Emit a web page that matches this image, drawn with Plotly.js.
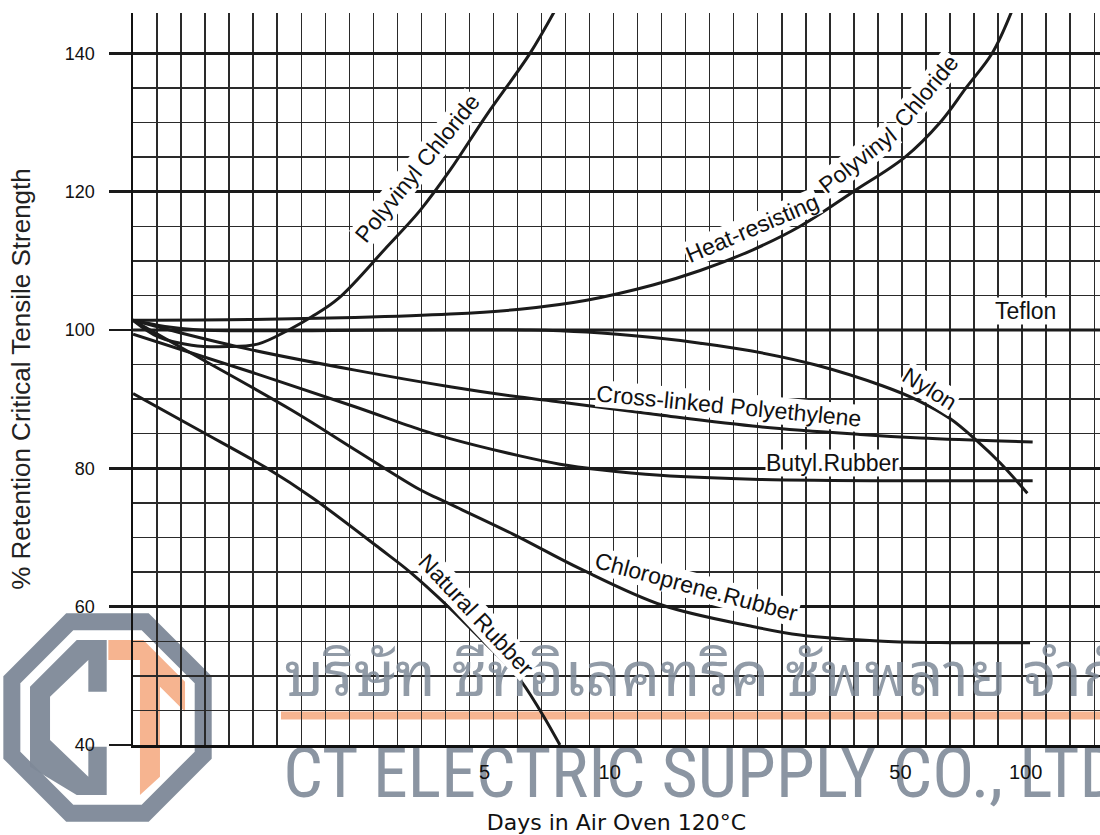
<!DOCTYPE html>
<html>
<head>
<meta charset="utf-8">
<script src="https://cdn.plot.ly/plotly-3.0.1.min.js"></script>
<style>html,body{margin:0;padding:0;background:#fff;}#chart{width:1100px;height:835px;}</style>
</head>
<body>
<div id="chart"></div>
<script>
// ---- data (days in air oven, % retention) ----
const pvcDays = [0.714, 0.821, 0.988, 1.21, 1.43, 1.69, 1.92, 2.23, 2.91, 3.50, 4.13, 5.06, 6.43, 7.43];
const pvcVals = [101.4, 99.0, 97.8, 97.6, 98.0, 100.0, 101.9, 104.6, 112.0, 117.3, 123.1, 131.1, 140.0, 146.5];

const heatPvcDays = [0.714, 1.36, 2.44, 4.13, 6.08, 8.80, 12.7, 16.5, 22.1, 28.7, 38.5, 51.3, 62.3, 71.9, 83.1, 92.8];
const heatPvcVals = [101.4, 101.5, 101.8, 102.3, 103.0, 104.3, 106.5, 108.6, 111.6, 115.0, 120.0, 125.0, 130.0, 135.0, 140.0, 146.2];

const teflonDays = [0.714, 151];
const teflonVals = [100, 100];

const nylonDays = [0.714, 0.852, 1.03, 3.13, 6.43, 8.80, 12.7, 16.5, 21.8, 31.5, 45.4, 54.7, 65.8, 76.3, 86.8, 101];
const nylonVals = [101.4, 100.5, 100.0, 100.0, 100.0, 99.7, 98.9, 98.1, 97.0, 94.9, 91.9, 89.9, 87.2, 84.0, 80.8, 76.4];

const xlpeDays = [0.714, 0.926, 1.36, 2.44, 4.13, 6.08, 7.59, 13.2, 23.0, 40.0, 55.8, 104];
const xlpeVals = [101.4, 99.6, 97.2, 94.2, 91.8, 90.3, 89.6, 87.7, 86.0, 84.9, 84.4, 83.8];

const butylDays = [0.714, 1.36, 2.44, 3.50, 4.13, 6.08, 7.59, 9.48, 13.2, 23.0, 55.8, 104];
const butylVals = [99.4, 94.0, 88.9, 85.6, 84.3, 81.8, 80.6, 79.8, 79.0, 78.4, 78.2, 78.2];

const chloroDays = [0.714, 0.995, 1.72, 2.44, 3.50, 3.91, 5.85, 8.48, 13.4, 21.8, 28.7, 45.4, 65.8, 102.5];
const chloroVals = [101.4, 96.5, 88.4, 82.7, 76.9, 75.5, 70.5, 65.5, 60.2, 57.2, 55.9, 55.0, 54.8, 54.8];

const naturalDays = [0.714, 1.03, 1.50, 1.93, 2.80, 3.31, 4.09, 4.96, 5.99, 6.80, 7.59];
const naturalVals = [90.8, 85.5, 80.0, 75.7, 68.4, 65.0, 60.0, 55.0, 50.0, 45.0, 40.0];

const xTickVals = [5, 10, 50, 100];
const xTickText = ['5', '10', '50', '100'];
const yMinorVals = [45, 50, 55, 65, 70, 75, 85, 90, 95, 105, 110, 115, 125, 130, 135];

// ---- styling ----
const INK = '#1b1b1b';
const FONT = 'Liberation Sans, Arial, Helvetica, sans-serif';
const WM_GRAY = 'rgb(126,137,152)';
const WM_ORANGE = 'rgb(246,176,138)';

function curve(x, y, name, shape) {
  return {x: x, y: y, name: name, type: 'scatter', mode: 'lines', xaxis: 'x2', yaxis: 'y',
          line: {color: INK, width: 3, shape: shape || 'spline', smoothing: 1},
          hoverinfo: 'name', showlegend: false};
}

const traces = [
  {x: [0], y: [100], mode: 'none', xaxis: 'x', yaxis: 'y', hoverinfo: 'skip', showlegend: false},
  // watermark company name (a text mark, kept beneath the axis tick labels)
  {x: [1.64], y: [40.05], mode: 'text', text: ['CT ELECTRIC SUPPLY CO., LTD.'], textposition: 'bottom right',
   textfont: {family: 'Liberation Sans Narrow, Roboto Condensed, Arial Narrow, Liberation Sans, sans-serif', size: 70, color: 'rgba(126,137,152,0.9)'},
   xaxis: 'x2', yaxis: 'y', cliponaxis: false, hoverinfo: 'skip', showlegend: false},
  curve(pvcDays, pvcVals, 'Polyvinyl Chloride'),
  curve(heatPvcDays, heatPvcVals, 'Heat-resisting Polyvinyl Chloride'),
  curve(teflonDays, teflonVals, 'Teflon', 'linear'),
  curve(nylonDays, nylonVals, 'Nylon'),
  curve(xlpeDays, xlpeVals, 'Cross-linked Polyethylene'),
  curve(butylDays, butylVals, 'Butyl Rubber'),
  curve(chloroDays, chloroVals, 'Chloroprene Rubber'),
  curve(naturalDays, naturalVals, 'Natural Rubber')
];

function lab(text, day, val, angle) {
  return {text: text, xref: 'x2', yref: 'y', x: Math.log10(day), y: val, showarrow: false,
          textangle: angle, font: {family: FONT, size: 23, color: '#111'},
          bgcolor: 'white', borderpad: 0, xanchor: 'center', yanchor: 'middle'};
}

const annotations = [
  // watermark (Thai company name)
  {text: 'บริษัท ซีทีอิเลคทริค ซัพพลาย จำกัด', xref: 'paper', yref: 'paper',
   x: (282 - 133) / 967, y: (745 - 668) / 732, xanchor: 'left', yanchor: 'middle', showarrow: false,
   font: {family: 'Noto Sans Thai Looped, Noto Looped Thai, Loma, Garuda, Norasi, Noto Sans Thai, sans-serif', size: 62, color: 'rgba(126,137,152,0.85)'}},
  lab('Polyvinyl Chloride', 3.45, 123.4, -51),
  lab('Heat-resisting', 22.0, 114.8, -23),
  lab('Polyvinyl', 39.5, 124.6, -38),
  lab('Chloride', 57.6, 134.6, -50),
  lab('Teflon', 99.7, 102.7, 0),
  lab('Nylon', 58.9, 91.4, 32),
  lab('Cross-linked Polyethylene', 19.4, 89.0, 5.5),
  lab('Butyl.Rubber', 34.4, 80.8, 0),
  lab('Chloroprene.Rubber', 16.2, 62.8, 15),
  lab('Natural Rubber', 4.78, 58.8, 47)
];

// watermark logo shapes (pixel -> paper)
function P(px, py) { return ((px - 133) / 967).toFixed(4) + ',' + ((745 - py) / 732).toFixed(4); }
function path(pts) { return 'M' + pts.map(p => P(p[0], p[1])).join('L') + 'Z'; }

const ring = [[69.8,621.8],[145.2,621.8],[203.2,679.8],[203.2,755.2],[145.2,813.2],[69.8,813.2],[11.8,755.2],[11.8,679.8]];
const cShape = [[106.7,640],[76.7,640],[30,686.7],[30,766.7],[76.7,795],[106.7,795],[106.7,746.7],[88.3,746.7],[88.3,776.7],[50,740],[50,696.7],[88.3,660],[88.3,691.7],[106.7,691.7]];
const tShape = [[108.3,640],[143.3,640],[185,681.7],[185,711.7],[160,686.7],[160,776.7],[140,795],[140,660],[108.3,660]];

const shapes = [
  {type: 'path', xref: 'paper', yref: 'paper', path: path(ring), line: {color: WM_GRAY, width: 17}, fillcolor: 'rgba(0,0,0,0)', opacity: 0.95, layer: 'below'},
  {type: 'path', xref: 'paper', yref: 'paper', path: path(cShape), line: {width: 0}, fillcolor: WM_GRAY, opacity: 0.95, layer: 'below'},
  {type: 'path', xref: 'paper', yref: 'paper', path: path(tShape), line: {width: 0}, fillcolor: WM_ORANGE, opacity: 0.95, layer: 'below'},
  {type: 'rect', xref: 'paper', yref: 'paper', x0: (281 - 133) / 967, x1: 1.01, y0: (745 - 719.5) / 732, y1: (745 - 711.5) / 732,
   line: {width: 0}, fillcolor: WM_ORANGE, opacity: 0.95, layer: 'below'}
];

const layout = {
  width: 1100, height: 835,
  margin: {l: 133, r: 0, t: 13, b: 90, pad: 0},
  paper_bgcolor: 'white', plot_bgcolor: 'rgba(0,0,0,0)',
  showlegend: false,
  font: {family: FONT, color: '#111'},
  xaxis: {range: [0, 40.24], tickmode: 'linear', tick0: 0, dtick: 1, showgrid: true, gridcolor: '#2a2a2a', gridwidth: 1.4,
          zeroline: false, showticklabels: false, ticks: '', showline: true, linecolor: '#111', linewidth: 2.5, fixedrange: true},
  xaxis2: {type: 'log', overlaying: 'x', side: 'bottom', anchor: 'y', range: [-0.1465, 2.179],
           tickmode: 'array', tickvals: xTickVals, ticktext: xTickText, showgrid: false, zeroline: false, showline: false,
           ticks: '', ticklabelstandoff: 13, tickfont: {family: FONT, size: 20, color: '#111'},
           title: {text: 'Days in Air Oven 120°C', font: {family: 'DejaVu Sans, Verdana, sans-serif', size: 22, color: '#111'}, standoff: 32},
           fixedrange: true},
  yaxis: {range: [40, 145.83], tickmode: 'linear', tick0: 40, dtick: 20, showgrid: true, gridcolor: '#1a1a1a', gridwidth: 2.8,
          ticks: 'outside', ticklen: 22, tickwidth: 2.8, tickcolor: '#1a1a1a', ticklabelstandoff: 10,
          tickfont: {family: FONT, size: 18, color: '#111'},
          showline: true, linecolor: '#111', linewidth: 2.5, zeroline: false,
          minor: {tickmode: 'array', tickvals: yMinorVals, showgrid: true, gridcolor: '#2a2a2a', gridwidth: 1.4, ticks: ''},
          title: {text: '% Retention Critical Tensile Strength', font: {family: FONT, size: 26, color: '#222'}, standoff: 27},
          fixedrange: true},
  annotations: annotations,
  shapes: shapes
};

Plotly.newPlot('chart', traces, layout, {displayModeBar: false, staticPlot: true});
</script>
</body>
</html>
